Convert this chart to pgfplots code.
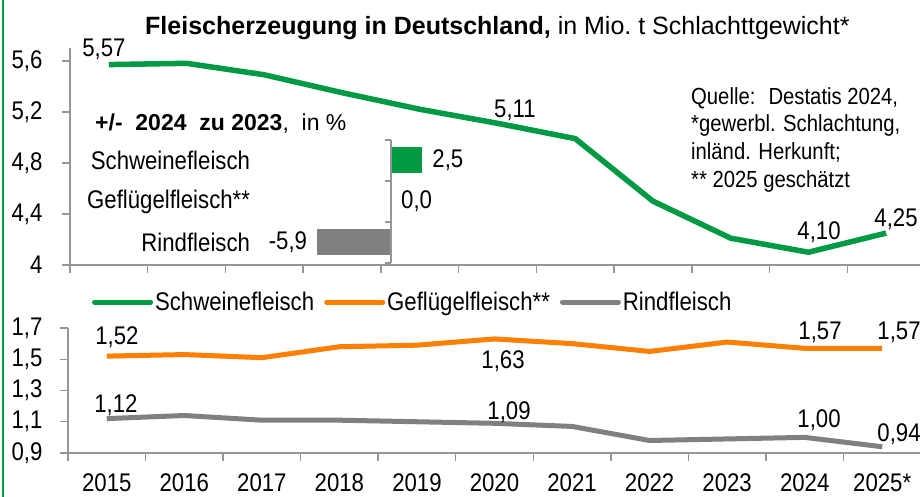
\documentclass[border=0pt]{standalone}
\usepackage{fontspec}
\setmainfont{Liberation Sans}[FakeStretch=0.87]
\newfontfamily\plainfont{Liberation Sans}
\usepackage{pgfplots}
\usepackage{pgfplotstable}
\pgfplotsset{compat=1.18}
\definecolor{sgreen}{RGB}{0,154,68}
\definecolor{porange}{RGB}{255,128,0}
\definecolor{rgray}{RGB}{128,128,128}
\definecolor{axgray}{RGB}{150,150,150}
\newcommand\bigf{\fontsize{25.5bp}{28bp}\selectfont}
\newcommand\qf{\fontsize{23.3bp}{27.7bp}\selectfont}

\pgfplotstableread{
x sw gf rf
0 5.57 1.52 1.12
1 5.58 1.53 1.14
2 5.49 1.51 1.11
3 5.35 1.58 1.11
4 5.22 1.59 1.10
5 5.11 1.63 1.09
6 4.99 1.60 1.07
7 4.50 1.55 0.98
8 4.21 1.61 0.99
9 4.10 1.57 1.00
10 4.25 1.57 0.94
}\data

\pgfplotstableread{
v c lab
2.5 2 2,5
0 1 0,0
-5.9 0 -5,9
}\diff

\begin{document}
\begin{tikzpicture}
\path[use as bounding box] (0bp,0bp) rectangle (920bp,497bp);
\draw[sgreen, line width=2bp] (3bp,0bp) -- (3bp,497bp);

% ---------- top axis: Schweinefleisch
\begin{axis}[
  at={(70bp,232bp)}, anchor=south west, scale only axis,
  width=855bp, height=217bp,
  xmin=-0.5, xmax=10.5, ymin=4, ymax=5.7,
  axis x line*=bottom, axis y line*=left,
  axis line style={axgray, line width=1.5bp},
  xtick={-0.5,0.5,...,10.5}, xticklabels={},
  ytick={4,4.4,4.8,5.2,5.6}, yticklabels={4,{4,4},{4,8},{5,2},{5,6}},
  tick align=outside, major tick length=8bp,
  tick style={axgray, line width=1.5bp},
  yticklabel style={font=\bigf, xshift=-16bp},
  clip=false,
]
\addplot[sgreen, line width=5.5bp, line join=round] table[x=x,y=sw]{\data};
\end{axis}

% ---------- bottom axis: Geflügel, Rind
\begin{axis}[
  at={(68bp,44bp)}, anchor=south west, scale only axis,
  width=853bp, height=125bp,
  xmin=-0.5, xmax=10.5, ymin=0.9, ymax=1.7,
  axis x line*=bottom, axis y line*=left,
  axis line style={axgray, line width=1.5bp},
  xtick={-0.5,0.5,...,10.5}, x tick label as interval,
  xticklabels={2015,2016,2017,2018,2019,2020,2021,2022,2023,2024,2025*},
  ytick={0.9,1.1,1.3,1.5,1.7}, yticklabels={{0,9},{1,1},{1,3},{1,5},{1,7}},
  tick align=outside, major tick length=8bp,
  tick style={axgray, line width=1.5bp},
  ticklabel style={font=\bigf},
  yticklabel style={xshift=-14bp},
  xticklabel style={yshift=-9bp},
  clip=false,
  legend columns=3,
  legend style={at={(axis description cs:0.028,1.208)}, anchor=west,
    draw=none, fill=none, inner sep=0pt, font=\bigf,
    nodes={inner sep=2bp},
    /tikz/every even column/.append style={column sep=8bp}},
  legend image code/.code={\draw[#1, line cap=round] (0bp,0bp) -- (56bp,0bp);},
]
\addlegendimage{sgreen, line width=5bp}
\addlegendentry{Schweinefleisch}
\addplot[porange, line width=5bp, line join=round] table[x=x,y=gf]{\data};
\addlegendentry{Geflügelfleisch**}
\addplot[rgray, line width=5bp, line join=round] table[x=x,y=rf]{\data};
\addlegendentry{Rindfleisch}
\end{axis}

% ---------- inset: +/- 2024 zu 2023
\begin{axis}[
  at={(253.5bp,234bp)}, anchor=south west, scale only axis,
  width=212.5bp, height=123bp,
  xmin=-11, xmax=6, ymin=-0.5, ymax=2.5,
  xbar, bar width=26bp, bar shift=0pt,
  axis line style={draw=none}, xtick=\empty,
  ytick={0,1,2}, yticklabels={Rindfleisch,Geflügelfleisch**,Schweinefleisch},
  major tick length=0pt, tick style={draw=none},
  yticklabel style={font=\bigf},
  nodes near coords, point meta=explicit symbolic,
  nodes near coords align=horizontal,
  nodes near coords style={font=\bigf, inner sep=10bp},
  clip=false,
]
\addplot[fill=sgreen, draw=none, every node near coord/.append style={anchor=west}]
  table[x=v,y=c,meta=lab, skip coords between index={1}{3}]{\diff};
\addplot[fill=porange, draw=none, every node near coord/.append style={anchor=west}]
  table[x=v,y=c,meta=lab, skip coords between index={0}{1}, skip coords between index={2}{3}]{\diff};
\addplot[fill=rgray, draw=none, every node near coord/.append style={anchor=east}]
  table[x=v,y=c,meta=lab, skip coords between index={0}{2}]{\diff};
\draw[axgray, line width=1.5bp] (axis cs:0,-0.5) -- (axis cs:0,2.5);
\draw[axgray, line width=1.5bp] (axis cs:0,-0.5) -- ([xshift=-6bp]axis cs:0,-0.5);
\draw[axgray, line width=1.5bp] (axis cs:0,0.5) -- ([xshift=-6bp]axis cs:0,0.5);
\draw[axgray, line width=1.5bp] (axis cs:0,1.5) -- ([xshift=-6bp]axis cs:0,1.5);
\draw[axgray, line width=1.5bp] (axis cs:0,2.5) -- ([xshift=-6bp]axis cs:0,2.5);
\end{axis}

% ---------- texts
\node[anchor=base west, inner sep=0pt] at (145bp,462bp)
  {\plainfont\fontsize{25bp}{28bp}\selectfont\bfseries Fleischerzeugung in Deutschland,\mdseries{} in Mio.\ t Schlachttgewicht*};
\node[anchor=base west, inner sep=0pt] at (95bp,366bp)
  {\plainfont\fontsize{23bp}{28bp}\selectfont\bfseries +/- \ 2024 \ zu 2023\mdseries, \ in \%};
\node[anchor=base west, inner sep=0pt] at (691bp,392bp) {\qf Quelle: \ Destatis 2024,};
\node[anchor=base west, inner sep=0pt] at (691bp,365bp) {\qf *gewerbl. Schlachtung,};
\node[anchor=base west, inner sep=0pt] at (691bp,337bp) {\qf inländ. Herkunft;};
\node[anchor=base west, inner sep=0pt] at (691bp,309bp) {\qf ** 2025 geschätzt};

\begin{scope}[every node/.style={anchor=base, inner sep=0pt, font=\bigf}]
\node at (104bp,440bp) {5,57};
\node at (515bp,379bp) {5,11};
\node at (819bp,257bp) {4,10};
\node at (896bp,270bp) {4,25};
\node at (117bp,152bp) {1,52};
\node at (503bp,128bp) {1,63};
\node at (820bp,157bp) {1,57};
\node at (899bp,157bp) {1,57};
\node at (116bp,84bp) {1,12};
\node at (509bp,77bp) {1,09};
\node at (819bp,69bp) {1,00};
\node at (899bp,55bp) {0,94};
\end{scope}
\end{tikzpicture}
\end{document}
